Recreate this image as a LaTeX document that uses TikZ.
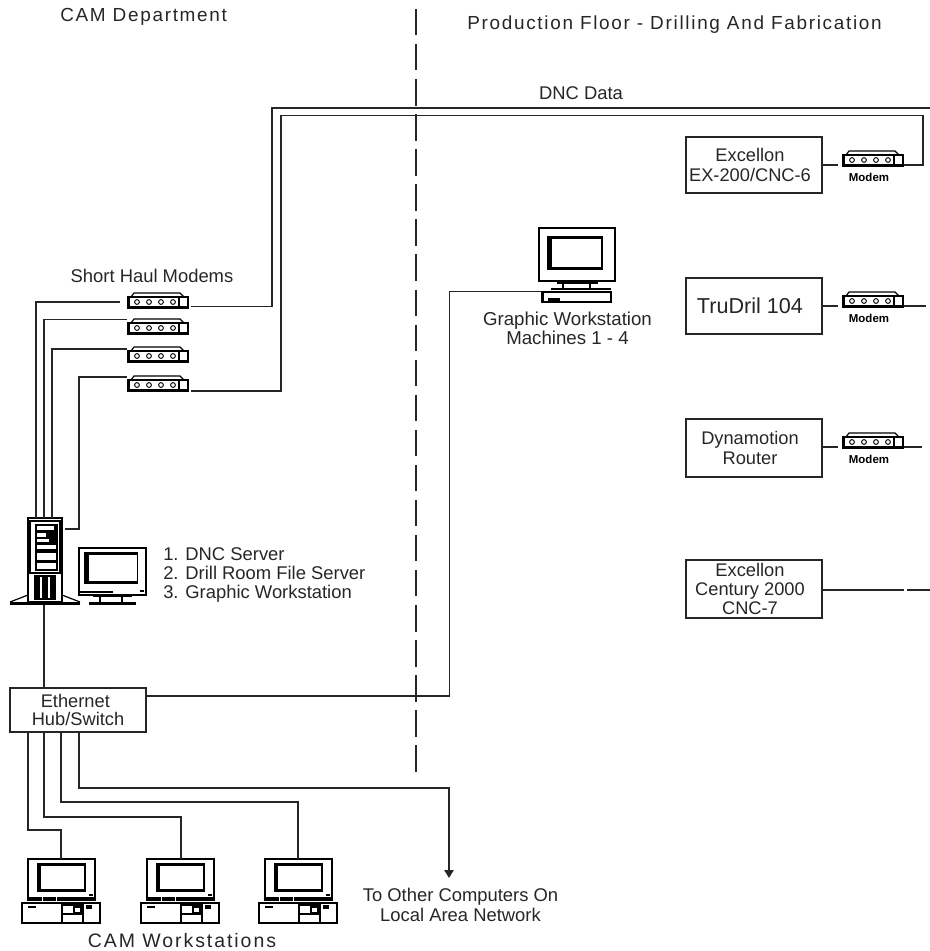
\documentclass[tikz,border=0pt]{standalone}
\usepackage{fontspec}
\setmainfont{Liberation Sans}
\usetikzlibrary{arrows.meta}
\newcommand\lft{\hspace*{-6pt}}
\tikzset{
  link/.style={line width=1.1pt,draw=black!85,line cap=butt,line join=miter},
  box/.style={draw=black!85,line width=1.1pt,minimum width=102pt,minimum height=42pt,inner sep=0pt,align=center,font=\fontsize{13.7}{14.4}\selectfont,text=black!85},
  hubbox/.style={box,minimum height=33pt,font=\fontsize{13.7}{13.8}\selectfont},
  tall/.style={box,minimum height=43.5pt},
  txt/.style={inner sep=0pt,font=\fontsize{13.8}{14.4}\selectfont,text=black!85,align=center},
  big/.style={inner sep=0pt,text=black!85,font=\fontsize{14.2}{15}\selectfont\addfontfeature{LetterSpace=9}},
  tiny/.style={inner sep=0pt,text=black,font=\fontsize{8.6}{9}\selectfont\bfseries},
  thin/.style={line width=0.9pt,draw=black},
  modem/.pic={
    \node[minimum width=46.5pt,minimum height=11.25pt,inner sep=0pt,anchor=north west] (-b) at (0,0) {};
    \draw[thin] (4,4) -- (7,0) -- (53,0) -- (57,4);
    \draw[thin] (1,4) rectangle (61,15);
    \fill (0,13) rectangle (62,15.5);
    \fill (0,4) rectangle (3,15);
    \draw[thin] (52,4) -- (52,15);
    \foreach \i in {10,22,34,46} \draw[line width=0.7pt] (\i,9) circle (2.4);
  },
  camws/.pic={
    \node[minimum width=50.25pt,minimum height=30.75pt,inner sep=0pt,anchor=north west] (-b) at (0,0) {};
    \draw[thin] (0,0) rectangle (67,41);
    \fill (9,4) rectangle (58,33);
    \fill[white] (13,7) rectangle (56,30);
    \fill (61,35) rectangle (65,37);
    \fill (0,38) rectangle (67,42);
    \draw[white,line width=0.5pt] (14,38) -- (14,42) (28,38) -- (28,42);
    \draw[thin] (-6,44) rectangle (72,64);
    \fill (0,46.5) rectangle (8,49);
    \draw[thin] (34,46) rectangle (55,64);
    \draw[thin] (34,55) -- (55,55);
    \draw[thin] (46,48) rectangle (53,54);
    \fill (58,46) rectangle (64,50);
  },
  tower/.pic={
    \node[minimum width=25.5pt,minimum height=63pt,inner sep=0pt,anchor=north west] (-b) at (0,0) {};
    \draw[thin] (0,0) rectangle (34,84);
    \draw[thin] (2,3) rectangle (32,55);
    \fill (7,6) rectangle (30,53);
    \fill[white] (9,8) rectangle (26,12);
    \fill[white] (9,15) rectangle (18,19);
    \fill[white] (9,21) rectangle (21,24);
    \fill[white] (9,27) rectangle (28,31);
    \fill[white] (9,35) rectangle (28,42);
    \fill[white] (9,45) rectangle (28,51);
    \fill (6,57) rectangle (28,82);
    \fill[white] (12,59) rectangle (14,80);
    \fill[white] (20,59) rectangle (22,80);
    \fill (-18,84) rectangle (52,87);
    \draw[thin] (-18,84) -- (0,77) (34,77) -- (52,84);
  },
  mon/.pic={
    \node[minimum width=50.25pt,minimum height=35.25pt,inner sep=0pt,anchor=north west] (-b) at (0,0) {};
    \draw[thin] (0,0) rectangle (67,47);
    \fill (5,4) rectangle (59,36);
    \fill[white] (10,7) rectangle (58,33);
    \draw[thin] (0,44) -- (34,44);
    \fill (61,42) rectangle (65,44);
    \fill (14,47) rectangle (53,49);
    \draw[thin] (21,47) -- (21,54) (43,47) -- (43,54);
    \fill (10,54) rectangle (57,56.5);
  },
  gws/.pic={
    \node[minimum width=57pt,minimum height=39.75pt,inner sep=0pt,anchor=north west] (-b) at (0,0) {};
    \draw[thin] (0,0) rectangle (76,53);
    \fill (8,8) rectangle (64,42);
    \fill[white] (13,11) rectangle (62,39);
    \fill (18,54) rectangle (59,56);
    \draw[thin] (24,56) -- (24,60) (51,56) -- (51,60);
    \fill (12,60) rectangle (72,62);
    \draw[thin] (3,64) rectangle (72,74);
    \fill (9,70) rectangle (21,73);
    \fill (3,64) rectangle (5,74);
  }
}
\begin{document}
\begin{tikzpicture}[x=0.75pt,y=-0.75pt]
\useasboundingbox (0,0) rectangle (930,951);
% divider
\coordinate (divT) at (416,9);
\coordinate (divB) at (416,773);
\draw[line width=1.2pt,draw=black!85,dash pattern=on 19.8pt off 6.5pt] (divT) -- (divB);
% titles
\node[big,anchor=west] (tCam) at (60,17) {CAM Department};
\node[big,anchor=west] (tProd) at (467,25) {Production Floor - Drilling And Fabrication};
\node[txt] (tDnc) at (581,93) {DNC Data};
\node[txt] (tShort) at (152,276) {Short Haul Modems};
\node[txt,anchor=west,align=left] (tServ) at (163,575) {1. DNC Server\\2. Drill Room File Server\\3. Graphic Workstation};
\node[txt,font=\fontsize{14}{14.3}\selectfont] (tGws) at (567.5,328.5) {Graphic Workstation\\Machines 1 - 4};
\node[big,font=\fontsize{14.6}{15}\selectfont\addfontfeature{LetterSpace=10}] (tCws) at (182,941) {CAM Workstations};
\node[txt] (tOther) at (460.5,905) {To Other Computers On\\Local Area Network};
% equipment
\node[box] (ex6) at (754,165) {\lft Excellon\\\lft EX-200/CNC-6};
\node[box,font=\fontsize{16.2}{17}\selectfont] (tru) at (754,306) {\lft TruDril 104};
\node[tall] (dyn) at (754,448) {\lft Dynamotion\\\lft Router};
\node[tall] (cen) at (754,589) {\lft Excellon\\\lft Century 2000\\\lft CNC-7};
\node[hubbox] (hub) at (78,710) {\hspace*{-4pt}Ethernet\\Hub/Switch};
% modems
\pic (m1) at (127,293) {modem};
\pic (m2) at (127,319) {modem};
\pic (m3) at (127,347) {modem};
\pic (m4) at (127,376) {modem};
\pic (mA) at (842,151) {modem};
\pic (mB) at (842,292) {modem};
\pic (mC) at (842,433) {modem};
\node[tiny] (lA) at (869,177) {Modem};
\node[tiny] (lB) at (869,318) {Modem};
\node[tiny] (lC) at (869,459) {Modem};
% computers
\pic (tw) at (28,518) {tower};
\pic (mon) at (79,548) {mon};
\pic (gw) at (539,228) {gws};
\pic (w1) at (28,859) {camws};
\pic (w2) at (147,859) {camws};
\pic (w3) at (265,859) {camws};
% connector ends
\coordinate (t1) at (36,518);
\coordinate (t2) at (44,518);
\coordinate (t3) at (52,518);
\coordinate (t4) at (65,529);
\coordinate (a1) at (120,302);
\coordinate (a2) at (127,319.5);
\coordinate (a3) at (127,349);
\coordinate (a4) at (127,377);
\coordinate (b1) at (191,306.5);
\coordinate (b4) at (191,391);
\coordinate (c1) at (272,108);
\coordinate (c4) at (281,115.5);
\coordinate (edge1) at (930,108);
\coordinate (c5) at (923,115.5);
\coordinate (d5) at (904,165);
\coordinate (twb) at (44,605);
\coordinate (h1) at (28,732);
\coordinate (h2) at (44,732);
\coordinate (h3) at (61,732);
\coordinate (h4) at (79,732);
\coordinate (w1t) at (61,859);
\coordinate (w2t) at (181,859);
\coordinate (w3t) at (298,859);
\coordinate (arrowEnd) at (449,878);
\coordinate (gwin) at (541,291.5);
\coordinate (hubR) at (146,696);
\coordinate (eA) at (838,165);
\coordinate (eB) at (838,306);
\coordinate (eC) at (838,447);
\coordinate (oB) at (904,306);
\coordinate (oBe) at (926,306);
\coordinate (oC) at (904,447);
\coordinate (oCe) at (922,447);
\coordinate (cenA) at (904,590);
\coordinate (cenB) at (907,590);
\coordinate (cenE) at (930,590);
% connectors
\draw[link] (t1) |- (a1);
\draw[link] (t2) |- (a2);
\draw[link] (t3) |- (a3);
\draw[link] (t4) -- ++(14,0) |- (a4);
\draw[link] (b1) -| (c1) -- (edge1);
\draw[link] (b4) -| (c4) -- (c5) |- (d5);
\draw[link] (twb) -- (twb |- hub.north);
\draw[link] (h1) -- (28,830) -| (w1t);
\draw[link] (h2) -- (44,817) -| (w2t);
\draw[link] (h3) -- (61,802) -| (w3t);
\draw[link,-{Triangle[length=6pt,width=7pt]}] (h4) -- (79,788) -| (arrowEnd);
\draw[link] (hubR) -- (449.5,696) |- (gwin);
\draw[link] (ex6.east |- eA) -- (eA);
\draw[link] (tru.east |- eB) -- (eB);
\draw[link] (dyn.east |- eC) -- (eC);
\draw[link] (oB) -- (oBe);
\draw[link] (oC) -- (oCe);
\draw[link] (cen.east |- cenA) -- (cenA);
\draw[link] (cenB) -- (cenE);
\end{tikzpicture}
\end{document}
